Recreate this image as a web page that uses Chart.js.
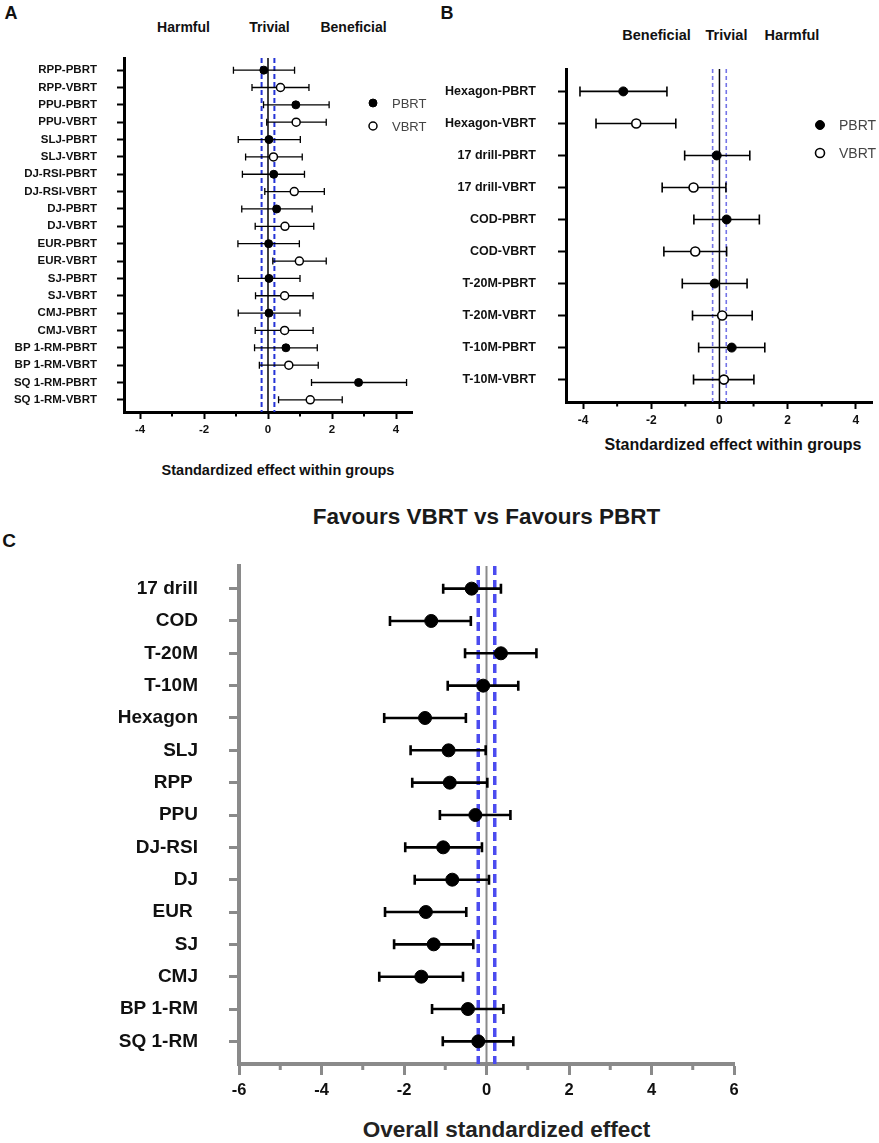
<!DOCTYPE html>
<html>
<head>
<meta charset="utf-8">
<script src="https://cdn.jsdelivr.net/npm/chart.js@4.4.1/dist/chart.umd.min.js"></script>
<style>
  html, body { margin: 0; padding: 0; background: #fff; }
  body { width: 879px; height: 1143px; position: relative; overflow: hidden;
         font-family: "Liberation Sans", Arial, sans-serif; }
  canvas { position: absolute; }
  .t { position: absolute; transform: translate(-50%, -50%); line-height: 1;
       white-space: nowrap; font-weight: bold; color: #111; }
</style>
</head>
<body>
<div class="t" style="left:11px;top:12.5px;font-size:18px">A</div>
<div class="t" style="left:447px;top:12.5px;font-size:18px">B</div>
<div class="t" style="left:9px;top:540px;font-size:19px">C</div>

<div class="t" style="left:183.5px;top:27px;font-size:14px">Harmful</div>
<div class="t" style="left:269.5px;top:27px;font-size:14px">Trivial</div>
<div class="t" style="left:353.5px;top:27px;font-size:14px">Beneficial</div>

<div class="t" style="left:656.5px;top:35px;font-size:14.5px">Beneficial</div>
<div class="t" style="left:726.5px;top:35px;font-size:14.5px">Trivial</div>
<div class="t" style="left:792px;top:35px;font-size:14.5px">Harmful</div>

<div class="t" style="left:278px;top:470px;font-size:14.5px">Standardized effect within groups</div>
<div class="t" style="left:733px;top:445px;font-size:16px">Standardized effect within groups</div>
<div class="t" style="left:486.5px;top:517px;font-size:22.5px;color:#1a1a1a">Favours VBRT vs Favours PBRT</div>
<div class="t" style="left:506.5px;top:1130px;font-size:22.5px;color:#222">Overall standardized effect</div>

<canvas id="chartA" width="440" height="480" style="left:0;top:0"></canvas>
<canvas id="chartB" width="439" height="480" style="left:440px;top:0"></canvas>
<canvas id="chartC" width="879" height="663" style="left:0;top:480px"></canvas>

<script>
// Panel A: within-group effects, strength / power tests
const labelsA = ['RPP-PBRT', 'RPP-VBRT', 'PPU-PBRT', 'PPU-VBRT', 'SLJ-PBRT', 'SLJ-VBRT',
  'DJ-RSI-PBRT', 'DJ-RSI-VBRT', 'DJ-PBRT', 'DJ-VBRT', 'EUR-PBRT', 'EUR-VBRT',
  'SJ-PBRT', 'SJ-VBRT', 'CMJ-PBRT', 'CMJ-VBRT', 'BP 1-RM-PBRT', 'BP 1-RM-VBRT',
  'SQ 1-RM-PBRT', 'SQ 1-RM-VBRT'];
const effectA = [-0.13, 0.39, 0.87, 0.88, 0.03, 0.17, 0.18, 0.82, 0.27, 0.53,
  0.02, 0.98, 0.03, 0.52, 0.03, 0.52, 0.56, 0.65, 2.83, 1.32];
const lowA = [-1.08, -0.50, -0.14, -0.04, -0.93, -0.70, -0.80, -0.10, -0.82, -0.40,
  -0.94, 0.15, -0.93, -0.39, -0.93, -0.40, -0.42, -0.27, 1.36, 0.33];
const highA = [0.83, 1.28, 1.91, 1.82, 1.01, 1.07, 1.14, 1.76, 1.38, 1.43,
  0.98, 1.82, 1.00, 1.41, 1.00, 1.41, 1.54, 1.57, 4.33, 2.32];

// Panel B: within-group effects, speed / agility tests
const labelsB = ['Hexagon-PBRT', 'Hexagon-VBRT', '17 drill-PBRT', '17 drill-VBRT',
  'COD-PBRT', 'COD-VBRT', 'T-20M-PBRT', 'T-20M-VBRT', 'T-10M-PBRT', 'T-10M-VBRT'];
const effectB = [-2.82, -2.44, -0.08, -0.76, 0.21, -0.71, -0.14, 0.08, 0.36, 0.13];
const lowB = [-4.09, -3.62, -1.02, -1.68, -0.75, -1.63, -1.09, -0.79, -0.61, -0.76];
const highB = [-1.54, -1.28, 0.89, 0.19, 1.17, 0.21, 0.81, 0.96, 1.33, 1.01];

// Panel C: overall effect, VBRT vs PBRT
const labelsC = ['17 drill', 'COD', 'T-20M', 'T-10M', 'Hexagon', 'SLJ', 'RPP ', 'PPU',
  'DJ-RSI', 'DJ', 'EUR ', 'SJ', 'CMJ', 'BP 1-RM', 'SQ 1-RM'];
const effectC = [-0.36, -1.34, 0.35, -0.08, -1.49, -0.92, -0.89, -0.27, -1.05, -0.83,
  -1.47, -1.28, -1.58, -0.45, -0.20];
const lowC = [-1.05, -2.34, -0.52, -0.94, -2.48, -1.84, -1.80, -1.13, -1.97, -1.74,
  -2.46, -2.24, -2.60, -1.32, -1.06];
const highC = [0.35, -0.38, 1.21, 0.77, -0.50, -0.02, 0.02, 0.58, -0.11, 0.06,
  -0.49, -0.32, -0.57, 0.41, 0.65];

const ticksAB = [-4, -2, 0, 2, 4];
const ticksC = [-6, -4, -2, 0, 2, 4, 6];
const trivialBand = 0.2;

Chart.defaults.font.family = '"Liberation Sans", Arial, sans-serif';

// error bars, reference lines, minor ticks and the little legend
const forestPlugin = {
  id: 'forest',
  beforeDatasetsDraw(chart, args, o) {
    const { ctx, chartArea: a, scales: { x, y } } = chart;
    ctx.save();
    const vline = (v, color, width, dash) => {
      const px = x.getPixelForValue(v);
      ctx.strokeStyle = color;
      ctx.lineWidth = width;
      ctx.setLineDash(dash);
      ctx.beginPath();
      ctx.moveTo(px, a.top);
      ctx.lineTo(px, a.bottom);
      ctx.stroke();
    };
    vline(0, o.zeroColor, o.zeroWidth, []);
    vline(-trivialBand, o.dashColor, o.dashWidth, o.dash);
    vline(trivialBand, o.dashColor, o.dashWidth, o.dash);

    ctx.setLineDash([]);
    ctx.strokeStyle = '#000';
    ctx.lineWidth = o.barWidth;
    chart.data.datasets.forEach(ds => ds.data.forEach(p => {
      const py = y.getPixelForValue(p.y);
      const x1 = x.getPixelForValue(p.lo);
      const x2 = x.getPixelForValue(p.hi);
      ctx.beginPath();
      ctx.moveTo(x1, py); ctx.lineTo(x2, py);
      ctx.moveTo(x1, py - o.cap / 2); ctx.lineTo(x1, py + o.cap / 2);
      ctx.moveTo(x2, py - o.cap / 2); ctx.lineTo(x2, py + o.cap / 2);
      ctx.stroke();
    }));
    ctx.restore();
  },
  afterDraw(chart, args, o) {
    const { ctx, chartArea: a, scales: { x } } = chart;
    ctx.save();
    // minor ticks on odd values
    ctx.strokeStyle = o.axisColor;
    ctx.lineWidth = o.minorWidth;
    x.ticks.forEach(t => {
      if (o.major.includes(t.value)) return;
      const px = x.getPixelForValue(t.value);
      ctx.beginPath();
      ctx.moveTo(px, a.bottom);
      ctx.lineTo(px, a.bottom + o.minorLen);
      ctx.stroke();
    });
    // legend
    if (o.legend) {
      const L = o.legend;
      chart.data.datasets.forEach((ds, i) => {
        const cy = L.y + i * L.gap;
        ctx.beginPath();
        ctx.arc(L.x, cy, L.r, 0, Math.PI * 2);
        ctx.fillStyle = ds.pointBackgroundColor;
        ctx.fill();
        ctx.lineWidth = ds.pointBorderWidth;
        ctx.strokeStyle = ds.pointBorderColor;
        ctx.stroke();
        ctx.fillStyle = '#444';
        ctx.font = L.font;
        ctx.textBaseline = 'middle';
        ctx.textAlign = 'left';
        ctx.fillText(ds.label, L.x + L.textOff, cy + 1);
      });
    }
    ctx.restore();
  }
};

function rows(labels, effect, low, high, suffix) {
  const out = [];
  labels.forEach((l, i) => {
    if (!suffix || l.endsWith(suffix)) out.push({ x: effect[i], y: i, lo: low[i], hi: high[i] });
  });
  return out;
}

function forestChart(id, c) {
  const n = c.labels.length;
  const xVals = [];
  for (let v = Math.ceil(c.xMin); v <= Math.floor(c.xMax); v++) xVals.push(v);
  return new Chart(document.getElementById(id), {
    type: 'scatter',
    data: { datasets: c.datasets },
    options: {
      responsive: false,
      animation: false,
      events: [],
      layout: { padding: c.padding },
      plugins: {
        legend: { display: false },
        tooltip: { enabled: false },
        forest: Object.assign({ major: c.xTicks, axisColor: c.axisColor }, c.forest)
      },
      scales: {
        x: {
          type: 'linear',
          min: c.xMin,
          max: c.xMax,
          afterFit: s => { s.height = c.xHeight; },
          afterBuildTicks: s => { s.ticks = xVals.map(v => ({ value: v })); },
          grid: {
            drawOnChartArea: false,
            tickLength: c.xTickLen,
            tickWidth: c.tickWidth,
            tickColor: ctx => c.xTicks.includes(ctx.tick && ctx.tick.value) ? c.axisColor : 'rgba(0,0,0,0)'
          },
          border: { display: true, color: c.axisColor, width: c.axisWidth },
          ticks: {
            autoSkip: false,
            maxRotation: 0,
            padding: c.xPad,
            color: '#111',
            font: { size: c.xFont, weight: 'bold' },
            callback: v => c.xTicks.includes(v) ? String(v) : ''
          }
        },
        y: {
          type: 'linear',
          reverse: true,
          min: -0.7,
          max: n - 0.3,
          afterFit: s => { s.width = c.yWidth; },
          afterBuildTicks: s => { s.ticks = c.labels.map((l, i) => ({ value: i })); },
          grid: {
            drawOnChartArea: false,
            tickLength: c.yTickLen,
            tickWidth: c.tickWidth,
            tickColor: c.axisColor
          },
          border: { display: true, color: c.axisColor, width: c.axisWidth },
          ticks: {
            autoSkip: false,
            padding: c.yPad,
            color: '#111',
            font: { size: c.yFont, weight: 'bold' },
            callback: v => c.labels[v]
          }
        }
      }
    },
    plugins: [forestPlugin]
  });
}

function pbrtSet(data, r) {
  return { label: 'PBRT', data, pointRadius: r, pointBackgroundColor: '#000',
    pointBorderColor: '#000', pointBorderWidth: 1 };
}
function vbrtSet(data, r, bw) {
  return { label: 'VBRT', data, pointRadius: r, pointBackgroundColor: '#fff',
    pointBorderColor: '#000', pointBorderWidth: bw };
}

forestChart('chartA', {
  labels: labelsA,
  datasets: [pbrtSet(rows(labelsA, effectA, lowA, highA, 'PBRT'), 4),
             vbrtSet(rows(labelsA, effectA, lowA, highA, 'VBRT'), 4, 1.5)],
  xMin: -4.5, xMax: 4.5, xTicks: ticksAB,
  padding: { left: 0, top: 58, right: 28, bottom: 0 },
  yWidth: 124, xHeight: 68,
  axisColor: '#000', axisWidth: 3, tickWidth: 2,
  xTickLen: 7, yTickLen: 7, xPad: 4, yPad: 20,
  xFont: 11.5, yFont: 11.5,
  forest: {
    zeroColor: '#000', zeroWidth: 1.5,
    dashColor: '#2433d6', dashWidth: 2, dash: [5, 3],
    barWidth: 1.3, cap: 7, minorLen: 4.5, minorWidth: 2,
    legend: { x: 373, y: 103, gap: 23, r: 4, textOff: 19, font: '13px "Liberation Sans", Arial, sans-serif' }
  }
});

forestChart('chartB', {
  labels: labelsB,
  datasets: [pbrtSet(rows(labelsB, effectB, lowB, highB, 'PBRT'), 4.5),
             vbrtSet(rows(labelsB, effectB, lowB, highB, 'VBRT'), 4.5, 1.6)],
  xMin: -4.5, xMax: 4.5, xTicks: ticksAB,
  padding: { left: 0, top: 69, right: 3, bottom: 0 },
  yWidth: 126, xHeight: 78,
  axisColor: '#000', axisWidth: 3, tickWidth: 2,
  xTickLen: 7, yTickLen: 8, xPad: 4, yPad: 22,
  xFont: 12, yFont: 12.5,
  forest: {
    zeroColor: '#000', zeroWidth: 1.5,
    dashColor: '#7474e6', dashWidth: 1.6, dash: [4, 3],
    barWidth: 1.6, cap: 10, minorLen: 4.5, minorWidth: 2,
    legend: { x: 380, y: 125, gap: 28, r: 4.5, textOff: 19, font: '14px "Liberation Sans", Arial, sans-serif' }
  }
});

forestChart('chartC', {
  labels: labelsC,
  datasets: [{ label: 'Overall', data: rows(labelsC, effectC, lowC, highC, null),
    pointRadius: 6.5, pointBackgroundColor: '#000', pointBorderColor: '#000', pointBorderWidth: 1 }],
  xMin: -6, xMax: 6, xTicks: ticksC,
  padding: { left: 0, top: 86, right: 145, bottom: 0 },
  yWidth: 239, xHeight: 79,
  axisColor: '#8a8a8a', axisWidth: 4, tickWidth: 3,
  xTickLen: 11, yTickLen: 10, xPad: 6, yPad: 31,
  xFont: 16.5, yFont: 19,
  forest: {
    zeroColor: '#8a8a8a', zeroWidth: 2,
    dashColor: '#4b4bef', dashWidth: 3.5, dash: [9, 5],
    barWidth: 2.6, cap: 10, minorLen: 6, minorWidth: 3,
    legend: null
  }
});
</script>
</body>
</html>
